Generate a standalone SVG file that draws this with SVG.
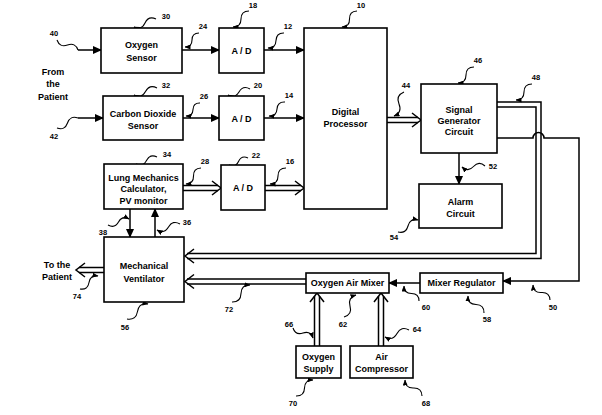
<svg xmlns="http://www.w3.org/2000/svg" width="602" height="415" viewBox="0 0 602 415">
<defs>
<marker id="ah" markerUnits="userSpaceOnUse" markerWidth="9" markerHeight="8" refX="8" refY="4" orient="auto"><path d="M0,0 L9,4 L0,8 z" fill="#000"/></marker>
<marker id="lh" markerUnits="userSpaceOnUse" markerWidth="6" markerHeight="5" refX="5.5" refY="2.5" orient="auto"><path d="M0,0 L6,2.5 L0,5 z" fill="#000"/></marker>
<style>
.box{fill:#fff;stroke:#000;stroke-width:1.6}
.t{font-family:"Liberation Sans",Arial,sans-serif;font-weight:bold;font-size:9px;text-anchor:middle;fill:#000}
.n{font-family:"Liberation Sans",Arial,sans-serif;font-weight:bold;font-size:7.5px;text-anchor:middle;fill:#000}
.ln{fill:none;stroke:#000;stroke-width:1.5}
.ar{fill:none;stroke:#000;stroke-width:1.5;marker-end:url(#ah)}
.ld{fill:none;stroke:#000;stroke-width:1.1;marker-end:url(#lh)}
.sq{fill:none;stroke:#000;stroke-width:1.1}
</style>
</defs>
<rect width="602" height="415" fill="#fff"/>

<g id="connectors">
<!-- solid arrows -->
<path class="ar" d="M78,50 H101"/>
<path class="ar" d="M78,118 H103"/>
<path class="ar" d="M182,50 H219"/>
<path class="ar" d="M264,50 H304"/>
<path class="ar" d="M183,118 H219"/>
<path class="ar" d="M264,118 H304"/>
<path class="ar" d="M459,153 V184"/>
<path class="ar" d="M130,209 V237"/>
<path class="ar" d="M155,237 V209"/>
<path class="ar" d="M420,283 H389"/>
<path class="ar" d="M497,138 H533 A5.5,5.5 0 0 1 544,138 H579 V281 H503"/>
<!-- double (pipe) arrows -->
<g class="ln">
<path d="M387,117.5 H418 M387,122.5 H418"/><polyline points="412,113 421,120 412,127"/>
<path d="M183,185.5 H218 M183,190.5 H218"/><polyline points="212,181 221,188 212,195"/>
<path d="M265,185.5 H301 M265,190.5 H301"/><polyline points="295,181 304,188 295,195"/>
<path d="M104,267.5 H79 M104,272.5 H79"/><polyline points="85,263 76,270 85,277"/>
<path d="M314.5,346 V296 M319.5,346 V296"/><polyline points="310,302 317,293 324,302"/>
<path d="M378.5,346 V296 M383.5,346 V296"/><polyline points="374,302 381,293 388,302"/>
<path d="M306,279 H187 M306,284 H187"/><polyline points="194,274.5 185,281.5 194,288.5"/>
<path d="M497,102 H541 V258.5 H187 M497,107 H536 V253.5 H187"/><polyline points="194,249 185,256 194,263"/>
</g>
<!-- entry squiggles -->
<path class="sq" d="M57,40 q2.75,7.75 10.5,5 t10.5,5"/>
<path class="sq" d="M57,128 q7.75,2.75 10.5,-5 t10.5,-5"/>
<!-- leader squiggles -->
<path class="ld" d="M156,19 q-7.5,-3.5 -11,4 t-11,4"/>
<path class="ld" d="M199,33 q-7,0 -7,7 t-7,7"/>
<path class="ld" d="M157,88 q-7.5,-4 -11.5,3.5 t-11.5,3.5"/>
<path class="ld" d="M200,103 q-6.75,-0.25 -7,6.5 t-7,6.5"/>
<path class="ld" d="M249,11 q-8,0 -8,8 t-8,8"/>
<path class="ld" d="M284,33 q-7.75,-0.25 -8,7.5 t-8,7.5"/>
<path class="ld" d="M357,11 q-7.75,0.25 -7.5,8 t-7.5,8"/>
<path class="ld" d="M250,89 q-7,-4 -11,3 t-11,3"/>
<path class="ld" d="M285,102 q-7.5,-0.5 -8,7 t-8,7"/>
<path class="ld" d="M474,67 q-8,0 -8,8 t-8,8"/>
<path class="ld" d="M532,84 q-8,0 -8,8 t-8,8"/>
<path class="ld" d="M404,92 q-8.5,3.5 -5,12 t-5,12"/>
<path class="ld" d="M485,166 q-6,-5.5 -11.5,0.5 t-11.5,0.5"/>
<path class="ld" d="M398,232 q8,2 10,-6 t10,-6"/>
<path class="ld" d="M157,157 q-7,-3.5 -10.5,3.5 t-10.5,3.5"/>
<path class="ld" d="M201,168 q-7.75,0.25 -7.5,8 t-7.5,8"/>
<path class="ld" d="M248,158 q-6.5,-3 -9.5,3.5 t-9.5,3.5"/>
<path class="ld" d="M286,168 q-8,0 -8,8 t-8,8"/>
<path class="ld" d="M108,225 q6.75,3.75 10.5,-3 t10.5,-3"/>
<path class="ld" d="M180,224 q-7.25,-4.25 -11.5,3 t-11.5,3"/>
<path class="ld" d="M80,289 q7.75,1.25 9,-6.5 t9,-6.5"/>
<path class="ld" d="M127,319 q9,1.5 10.5,-7.5 t10.5,-7.5"/>
<path class="ld" d="M232,302 q8.75,0.25 9,-8.5 t9,-8.5"/>
<path class="ld" d="M344,317 q8.5,-2.5 6,-11 t6,-11"/>
<path class="ld" d="M419,301 q0,-7.5 -7.5,-7.5 t-7.5,-7.5"/>
<path class="ld" d="M484,313 q0.25,-8.25 -8,-8.5 t-8,-8.5"/>
<path class="ld" d="M550,300 q-0.5,-8 -8.5,-7.5 t-8.5,-7.5"/>
<path class="ld" d="M293,328 q2.5,7.5 10,5 t10,5"/>
<path class="ld" d="M409,330 q-7.75,-4.25 -12,3.5 t-12,3.5"/>
<path class="ld" d="M296,396 q8.25,0.25 8.5,-8 t8.5,-8"/>
<path class="ld" d="M422,396 q-0.25,-8.25 -8.5,-8 t-8.5,-8"/>
</g>

<g id="oxygen-sensor"><rect class="box" x="101" y="28" width="81" height="45"/><text class="t" x="141.5" y="48">Oxygen</text><text class="t" x="141.5" y="61">Sensor</text></g>
<g id="co2-sensor"><rect class="box" x="103" y="96" width="80" height="44"/><text class="t" x="143" y="117">Carbon Dioxide</text><text class="t" x="143" y="129">Sensor</text></g>
<g id="ad-18"><rect class="box" x="219" y="28" width="45" height="45"/><text class="t" x="241.5" y="54">A / D</text></g>
<g id="ad-20"><rect class="box" x="219" y="96" width="45" height="44"/><text class="t" x="241.5" y="122">A / D</text></g>
<g id="ad-22"><rect class="box" x="221" y="165" width="44" height="45"/><text class="t" x="243" y="191">A / D</text></g>
<g id="digital-processor"><rect class="box" x="304" y="28" width="83" height="181"/><text class="t" x="345.5" y="115">Digital</text><text class="t" x="345.5" y="127">Processor</text></g>
<g id="signal-generator"><rect class="box" x="421" y="84" width="76" height="69"/><text class="t" x="459" y="113">Signal</text><text class="t" x="459" y="124">Generator</text><text class="t" x="459" y="135">Circuit</text></g>
<g id="alarm-circuit"><rect class="box" x="419" y="184" width="83" height="44"/><text class="t" x="460.5" y="205">Alarm</text><text class="t" x="460.5" y="217">Circuit</text></g>
<g id="lung-mechanics"><rect class="box" x="104" y="164" width="79" height="45"/><text class="t" x="143.5" y="181">Lung Mechanics</text><text class="t" x="143.5" y="192">Calculator,</text><text class="t" x="143.5" y="204">PV monitor</text></g>
<g id="mechanical-ventilator"><rect class="box" x="104" y="237" width="80" height="65"/><text class="t" x="144" y="269">Mechanical</text><text class="t" x="144" y="282">Ventilator</text></g>
<g id="oxygen-air-mixer"><rect class="box" x="306" y="273" width="83" height="20"/><text class="t" x="347.5" y="286">Oxygen Air Mixer</text></g>
<g id="mixer-regulator"><rect class="box" x="420" y="273" width="83" height="20"/><text class="t" x="461.5" y="286">Mixer Regulator</text></g>
<g id="oxygen-supply"><rect class="box" x="296" y="346" width="45" height="32"/><text class="t" x="318.5" y="360">Oxygen</text><text class="t" x="318.5" y="372">Supply</text></g>
<g id="air-compressor"><rect class="box" x="350" y="346" width="63" height="32"/><text class="t" x="381.5" y="360">Air</text><text class="t" x="381.5" y="372">Compressor</text></g>

<g id="side-texts">
<text class="t" x="53" y="75">From</text><text class="t" x="53" y="87">the</text><text class="t" x="53" y="100">Patient</text>
<text class="t" x="57" y="268">To the</text><text class="t" x="57" y="280">Patient</text>
</g>

<g id="labels">
<text class="n" x="166" y="19">30</text><text class="n" x="203" y="29">24</text><text class="n" x="54" y="36">40</text>
<text class="n" x="166" y="88">32</text><text class="n" x="204" y="99">26</text><text class="n" x="54" y="139">42</text>
<text class="n" x="253" y="8">18</text><text class="n" x="288" y="29">12</text><text class="n" x="361" y="8">10</text>
<text class="n" x="258" y="88">20</text><text class="n" x="289" y="98">14</text>
<text class="n" x="478" y="63">46</text><text class="n" x="536" y="80">48</text><text class="n" x="406" y="88">44</text>
<text class="n" x="493" y="169">52</text><text class="n" x="394" y="240">54</text>
<text class="n" x="167" y="157">34</text><text class="n" x="205" y="164">28</text><text class="n" x="256" y="158">22</text><text class="n" x="290" y="164">16</text>
<text class="n" x="103" y="235">38</text><text class="n" x="187" y="225">36</text>
<text class="n" x="77" y="299">74</text><text class="n" x="125" y="330">56</text><text class="n" x="229" y="312">72</text>
<text class="n" x="343" y="327">62</text><text class="n" x="426" y="310">60</text><text class="n" x="487" y="322">58</text><text class="n" x="553" y="310">50</text>
<text class="n" x="289" y="327">66</text><text class="n" x="417" y="332">64</text><text class="n" x="293" y="406">70</text><text class="n" x="426" y="406">68</text>
</g>
</svg>
